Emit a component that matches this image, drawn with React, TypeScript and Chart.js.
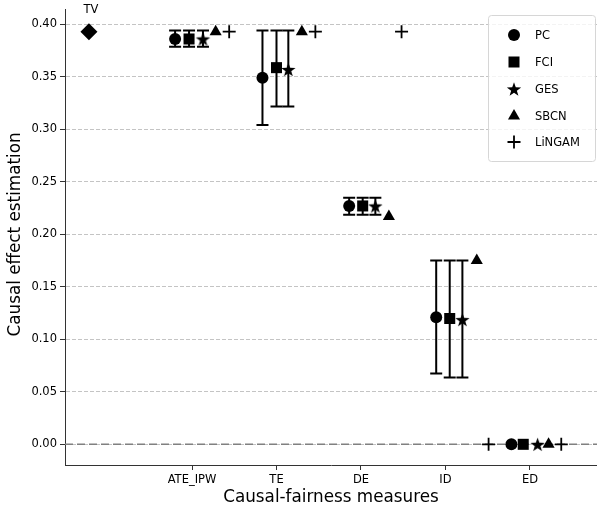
import { useEffect, useRef } from 'react';
import { Chart, registerables } from 'chart.js';

Chart.register(...registerables);

// ---- data ----
const categories = ['ATE_IPW', 'TE', 'DE', 'ID', 'ED'];
const categoryPositions = [1, 2, 3, 4, 5];
const methods = ['PC', 'FCI', 'GES', 'SBCN', 'LiNGAM'];

const pcX = [0.8, 1.834, 2.86, 3.89, 4.78];
const pcY = [0.386, 0.349, 0.227, 0.121, 0.0];
const pcLow = [0.3786, 0.304, 0.2186, 0.0675, null];
const pcHigh = [0.394, 0.394, 0.2348, 0.175, null];

const fciX = [0.965, 2.0, 3.02, 4.05, 4.92];
const fciY = [0.386, 0.3587, 0.227, 0.1198, 0.0];
const fciLow = [0.3786, 0.3216, 0.2186, 0.0637, null];
const fciHigh = [0.394, 0.394, 0.2348, 0.175, null];

const gesX = [1.13, 2.14, 3.17, 4.2, 5.09];
const gesY = [0.386, 0.357, 0.227, 0.1188, 0.0];
const gesLow = [0.3786, 0.3216, 0.2186, 0.0637, null];
const gesHigh = [0.394, 0.394, 0.2348, 0.175, null];

const sbcnX = [1.28, 2.3, 3.33, 4.37, 5.22];
const sbcnY = [0.393, 0.393, 0.217, 0.175, 0.0];

const lingamX = [1.44, 2.46, 3.48, 4.51, 5.37];
const lingamY = [0.393, 0.393, 0.393, 0.0, 0.0];

const tvX = [-0.22];
const tvY = [0.393];
const tvLabel = 'TV';

const yTicks = [0, 0.05, 0.1, 0.15, 0.2, 0.25, 0.3, 0.35, 0.4];
const yTickLabels = ['0.00', '0.05', '0.10', '0.15', '0.20', '0.25', '0.30', '0.35', '0.40'];

const xTitle = 'Causal-fairness measures';
const yTitle = 'Causal effect estimation';

const FONT = "'DejaVu Sans', sans-serif";

function zip(xs: number[], ys: number[]) {
  return xs.map((x, i) => ({ x, y: ys[i] }));
}

function makeStar(r: number): HTMLCanvasElement {
  const size = Math.ceil(r * 2 + 2);
  const c = document.createElement('canvas');
  c.width = size;
  c.height = size;
  const g = c.getContext('2d')!;
  drawStarPath(g, size / 2, size / 2 + r * 0.1, r);
  g.fillStyle = '#000';
  g.fill();
  return c;
}

function drawStarPath(g: CanvasRenderingContext2D, cx: number, cy: number, r: number) {
  const inner = r * 0.4;
  g.beginPath();
  for (let i = 0; i < 10; i++) {
    const rad = i % 2 === 0 ? r : inner;
    const a = -Math.PI / 2 + (i * Math.PI) / 5;
    const px = cx + Math.cos(a) * rad;
    const py = cy + Math.sin(a) * rad;
    if (i === 0) g.moveTo(px, py);
    else g.lineTo(px, py);
  }
  g.closePath();
}

function drawMarker(g: CanvasRenderingContext2D, kind: string, x: number, y: number) {
  g.save();
  g.fillStyle = '#000';
  g.strokeStyle = '#000';
  if (kind === 'circle') {
    g.beginPath();
    g.arc(x, y, 6, 0, Math.PI * 2);
    g.fill();
  } else if (kind === 'rect') {
    g.fillRect(x - 5.5, y - 5.5, 11, 11);
  } else if (kind === 'star') {
    drawStarPath(g, x, y + 0.7, 7.5);
    g.fill();
  } else if (kind === 'triangle') {
    const r = 7;
    g.beginPath();
    g.moveTo(x, y - r);
    g.lineTo(x + r * 0.866, y + r * 0.5);
    g.lineTo(x - r * 0.866, y + r * 0.5);
    g.closePath();
    g.fill();
  } else if (kind === 'cross') {
    g.lineWidth = 1.8;
    g.beginPath();
    g.moveTo(x - 6.5, y);
    g.lineTo(x + 6.5, y);
    g.moveTo(x, y - 6.5);
    g.lineTo(x, y + 6.5);
    g.stroke();
  }
  g.restore();
}

export default function App() {
  const ref = useRef<HTMLCanvasElement | null>(null);

  useEffect(() => {
    document.body.style.margin = '0';
    const canvas = ref.current!;
    const star = makeStar(7.5);

    const errorSets = [
      { xs: pcX, ys: pcY, lo: pcLow, hi: pcHigh },
      { xs: fciX, ys: fciY, lo: fciLow, hi: fciHigh },
      { xs: gesX, ys: gesY, lo: gesLow, hi: gesHigh },
    ];

    const legendKinds = ['circle', 'rect', 'star', 'triangle', 'cross'];

    const overlay = {
      id: 'overlay',
      beforeDatasetsDraw(chart: any) {
        const { ctx, chartArea, scales } = chart;
        const xs = scales.x;
        const ys = scales.y;
        ctx.save();
        // zero reference line
        ctx.strokeStyle = '#808080';
        ctx.lineWidth = 1.5;
        ctx.setLineDash([8, 4]);
        const y0 = ys.getPixelForValue(0);
        ctx.beginPath();
        ctx.moveTo(chartArea.left, y0);
        ctx.lineTo(chartArea.right, y0);
        ctx.stroke();
        ctx.setLineDash([]);
        // error bars
        ctx.strokeStyle = '#000';
        ctx.lineWidth = 2;
        for (const s of errorSets) {
          s.xs.forEach((xv, i) => {
            const lo = s.lo[i];
            const hi = s.hi[i];
            if (lo == null || hi == null) return;
            const px = xs.getPixelForValue(xv);
            const pl = ys.getPixelForValue(lo);
            const ph = ys.getPixelForValue(hi);
            ctx.beginPath();
            ctx.moveTo(px, pl);
            ctx.lineTo(px, ph);
            ctx.moveTo(px - 6, pl);
            ctx.lineTo(px + 6, pl);
            ctx.moveTo(px - 6, ph);
            ctx.lineTo(px + 6, ph);
            ctx.stroke();
          });
        }
        ctx.restore();
      },
      afterDraw(chart: any) {
        const { ctx, chartArea, scales } = chart;
        ctx.save();
        // TV label
        ctx.fillStyle = '#000';
        ctx.font = `11.5px ${FONT}`;
        ctx.textAlign = 'center';
        ctx.textBaseline = 'middle';
        ctx.fillText(tvLabel, scales.x.getPixelForValue(tvX[0]) + 2, 10);
        // axis titles
        ctx.font = `16.8px ${FONT}`;
        ctx.fillText(xTitle, (chartArea.left + chartArea.right) / 2, 498);
        ctx.save();
        ctx.translate(16, (chartArea.top + chartArea.bottom) / 2 - 3);
        ctx.rotate(-Math.PI / 2);
        ctx.fillText(yTitle, 0, 0);
        ctx.restore();
        // legend
        const lx = 488.5, ly = 15.5, lw = 107, lh = 146, rr = 3;
        ctx.beginPath();
        ctx.moveTo(lx + rr, ly);
        ctx.lineTo(lx + lw - rr, ly);
        ctx.arcTo(lx + lw, ly, lx + lw, ly + rr, rr);
        ctx.lineTo(lx + lw, ly + lh - rr);
        ctx.arcTo(lx + lw, ly + lh, lx + lw - rr, ly + lh, rr);
        ctx.lineTo(lx + rr, ly + lh);
        ctx.arcTo(lx, ly + lh, lx, ly + lh - rr, rr);
        ctx.lineTo(lx, ly + rr);
        ctx.arcTo(lx, ly, lx + rr, ly, rr);
        ctx.closePath();
        ctx.fillStyle = 'rgba(255,255,255,0.8)';
        ctx.fill();
        ctx.strokeStyle = '#d6d6d6';
        ctx.lineWidth = 1;
        ctx.stroke();
        const rowsY = [35, 62, 89, 116, 142];
        ctx.font = `11.5px ${FONT}`;
        ctx.textAlign = 'left';
        ctx.textBaseline = 'middle';
        methods.forEach((m, i) => {
          drawMarker(ctx, legendKinds[i], 514, rowsY[i]);
          ctx.fillStyle = '#000';
          ctx.fillText(m, 535, rowsY[i] + 1);
        });
        ctx.restore();
      },
    };

    const base = { showLine: false, backgroundColor: '#000', borderColor: '#000', borderWidth: 0 };

    const chart = new Chart(canvas, {
      type: 'scatter',
      data: {
        datasets: [
          { ...base, label: 'TV', data: zip(tvX, tvY), pointStyle: 'rectRot', pointRadius: 8.5 },
          { ...base, label: methods[0], data: zip(pcX, pcY), pointStyle: 'circle', pointRadius: 6 },
          { ...base, label: methods[1], data: zip(fciX, fciY), pointStyle: 'rect', pointRadius: 7.8 },
          { ...base, label: methods[2], data: zip(gesX, gesY), pointStyle: star as any, pointRadius: 7.5 },
          { ...base, label: methods[3], data: zip(sbcnX, sbcnY), pointStyle: 'triangle', pointRadius: 7 },
          { ...base, label: methods[4], data: zip(lingamX, lingamY), pointStyle: 'cross', pointRadius: 6.5, borderWidth: 1.8 },
        ],
      },
      options: {
        responsive: false,
        animation: false,
        events: [],
        layout: { autoPadding: false, padding: { top: 9, right: 0, left: 0, bottom: 0 } },
        plugins: { legend: { display: false }, tooltip: { enabled: false } },
        scales: {
          x: {
            type: 'linear',
            min: -0.503,
            max: 5.793,
            afterBuildTicks: (s: any) => {
              s.ticks = categoryPositions.map((v) => ({ value: v }));
            },
            afterFit: (s: any) => {
              s.height = 45;
            },
            ticks: {
              callback: (_v: any, i: number) => categories[i],
              font: { family: FONT, size: 11.5 },
              color: '#000',
              padding: 3,
              maxRotation: 0,
              autoSkip: false,
            },
            grid: { display: true, drawOnChartArea: false, drawTicks: true, tickLength: 5, tickColor: '#333', tickWidth: 1 },
            border: { display: true, color: '#333', width: 1 },
          },
          y: {
            type: 'linear',
            min: -0.0197,
            max: 0.4137,
            afterBuildTicks: (s: any) => {
              s.ticks = yTicks.map((v) => ({ value: v }));
            },
            afterFit: (s: any) => {
              s.width = 65;
            },
            ticks: {
              callback: (_v: any, i: number) => yTickLabels[i],
              font: { family: FONT, size: 11.5 },
              color: '#000',
              padding: 3,
              autoSkip: false,
            },
            grid: { display: true, color: '#c4c4c4', lineWidth: 1, drawTicks: true, tickLength: 5, tickColor: '#333', tickWidth: 1, tickBorderDash: [] },
            border: { display: true, color: '#333', width: 1, dash: [4, 2] },
          },
        },
      },
      plugins: [overlay],
    } as any);

    return () => chart.destroy();
  }, []);

  return (
    <div style={{ width: 597, height: 510 }}>
      <canvas ref={ref} width={597} height={510} style={{ display: 'block' }} />
    </div>
  );
}
